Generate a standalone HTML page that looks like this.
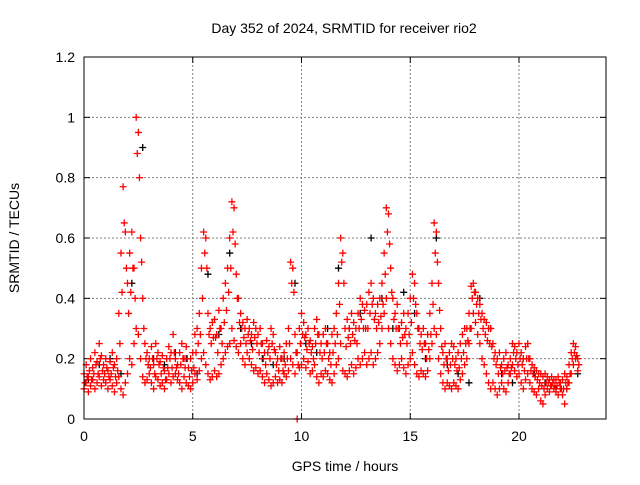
<!DOCTYPE html>
<html><head><meta charset="utf-8"><style>
body{margin:0;background:#fff}
svg text{font-family:"Liberation Sans",sans-serif;font-size:14px;fill:#000}
</style></head><body>
<svg id="chart" width="640" height="480" xmlns="http://www.w3.org/2000/svg">
<rect width="640" height="480" fill="#fff"/>
<g id="grid"></g>
<g id="ticks"></g>
<g id="marks"></g>
<rect x="84" y="57" width="522" height="362" fill="none" stroke="#000" stroke-width="1"/>
<text x="344" y="33" text-anchor="middle">Day 352 of 2024, SRMTID for receiver rio2</text>
<text x="345" y="471" text-anchor="middle">GPS time / hours</text>
<text x="19" y="238" text-anchor="middle" transform="rotate(-90 19 238)">SRMTID / TECUs</text>
</svg>
<script>
const xTicks=[0,5,10,15,20];
const yTicks=[0,0.2,0.4,0.6,0.8,1,1.2];
const yTickLabels=["0","0.2","0.4","0.6","0.8","1","1.2"];
const redStep=0.1;
const redUpper=[0.15,0.18,0.14,0.2,0.17,0.22,0.19,0.25,0.21,0.18,
0.2,0.16,0.19,0.22,0.18,0.2,0.35,0.55,0.77,0.62,
0.45,0.55,0.62,0.5,1.0,0.95,0.6,0.4,0.25,0.22,
0.2,0.24,0.18,0.25,0.22,0.19,0.21,0.16,0.2,0.24,
0.22,0.28,0.2,0.18,0.22,0.25,0.2,0.24,0.17,0.2,
0.22,0.28,0.3,0.35,0.5,0.62,0.6,0.35,0.3,0.32,
0.33,0.28,0.36,0.3,0.4,0.45,0.5,0.6,0.72,0.7,
0.48,0.4,0.35,0.32,0.3,0.33,0.3,0.28,0.32,0.3,
0.28,0.3,0.25,0.22,0.26,0.24,0.3,0.28,0.22,0.2,
0.24,0.2,0.22,0.25,0.3,0.52,0.5,0.28,0.22,0.3,
0.35,0.32,0.28,0.3,0.26,0.24,0.3,0.33,0.28,0.25,
0.28,0.3,0.25,0.22,0.28,0.3,0.35,0.45,0.6,0.55,
0.3,0.33,0.3,0.35,0.32,0.3,0.35,0.4,0.38,0.36,
0.38,0.42,0.45,0.4,0.35,0.38,0.4,0.45,0.55,0.7,
0.68,0.5,0.4,0.35,0.38,0.3,0.32,0.35,0.3,0.35,
0.4,0.48,0.45,0.35,0.3,0.28,0.3,0.25,0.28,0.35,
0.45,0.65,0.62,0.45,0.3,0.22,0.25,0.2,0.22,0.25,
0.24,0.2,0.22,0.25,0.28,0.3,0.3,0.35,0.44,0.45,
0.42,0.4,0.38,0.35,0.33,0.32,0.3,0.3,0.25,0.22,
0.2,0.22,0.18,0.2,0.22,0.18,0.2,0.25,0.24,0.22,
0.25,0.22,0.2,0.24,0.25,0.2,0.18,0.17,0.16,0.15,
0.15,0.14,0.15,0.14,0.13,0.14,0.13,0.13,0.14,0.12,
0.13,0.15,0.14,0.18,0.22,0.25,0.24,0.2];
const redMid=[0.12,0.14,0.16,0.13,0.15,0.18,0.15,0.2,0.16,0.15,
0.17,0.14,0.15,0.17,0.14,0.16,0.25,0.42,0.65,0.5,
0.35,0.42,0.5,0.4,0.88,0.8,0.52,0.3,0.2,0.18,
0.17,0.2,0.15,0.2,0.18,0.15,0.17,0.13,0.17,0.2,
0.17,0.22,0.17,0.15,0.18,0.2,0.17,0.2,0.14,0.16,
0.17,0.22,0.25,0.28,0.4,0.55,0.5,0.28,0.25,0.27,
0.27,0.22,0.3,0.25,0.32,0.36,0.42,0.5,0.62,0.58,
0.4,0.32,0.3,0.27,0.25,0.28,0.26,0.23,0.27,0.25,
0.22,0.25,0.2,0.18,0.22,0.2,0.25,0.23,0.18,0.16,
0.2,0.16,0.18,0.2,0.25,0.45,0.42,0.22,0.18,0.25,
0.28,0.27,0.23,0.25,0.22,0.2,0.25,0.28,0.22,0.2,
0.22,0.25,0.2,0.18,0.22,0.25,0.28,0.38,0.52,0.45,
0.24,0.27,0.25,0.28,0.26,0.25,0.3,0.33,0.3,0.3,
0.3,0.35,0.38,0.33,0.3,0.32,0.34,0.38,0.48,0.62,
0.58,0.42,0.33,0.3,0.3,0.25,0.27,0.28,0.25,0.28,
0.32,0.4,0.38,0.3,0.25,0.23,0.25,0.2,0.23,0.28,
0.38,0.55,0.52,0.36,0.24,0.18,0.2,0.16,0.18,0.2,
0.18,0.16,0.17,0.2,0.22,0.25,0.26,0.3,0.4,0.42,
0.38,0.35,0.33,0.3,0.28,0.26,0.25,0.24,0.2,0.18,
0.15,0.17,0.15,0.16,0.17,0.15,0.17,0.22,0.2,0.18,
0.2,0.18,0.16,0.2,0.2,0.16,0.15,0.14,0.13,0.12,
0.11,0.1,0.12,0.12,0.11,0.12,0.11,0.11,0.12,0.1,
0.1,0.12,0.12,0.15,0.2,0.22,0.21,0.18];
const redLower=[0.1,0.12,0.09,0.11,0.13,0.1,0.12,0.14,0.11,0.13,
0.12,0.1,0.13,0.11,0.09,0.12,0.14,0.1,0.08,0.12,
0.15,0.2,0.18,0.25,0.3,0.28,0.2,0.14,0.12,0.13,
0.15,0.12,0.1,0.14,0.13,0.11,0.12,0.1,0.13,0.15,
0.12,0.14,0.15,0.13,0.12,0.1,0.14,0.12,0.11,0.1,
0.12,0.15,0.13,0.16,0.2,0.22,0.18,0.15,0.13,0.14,
0.16,0.14,0.15,0.18,0.2,0.22,0.24,0.25,0.3,0.26,
0.24,0.22,0.25,0.2,0.18,0.22,0.2,0.18,0.16,0.17,
0.15,0.16,0.14,0.12,0.15,0.13,0.11,0.12,0.14,0.12,
0.13,0.12,0.15,0.14,0.16,0.2,0.18,0.15,0.0,0.17,
0.18,0.2,0.17,0.19,0.15,0.16,0.18,0.14,0.12,0.15,
0.14,0.16,0.15,0.13,0.12,0.15,0.18,0.2,0.25,0.16,
0.15,0.14,0.16,0.18,0.15,0.17,0.2,0.18,0.2,0.22,
0.18,0.2,0.22,0.18,0.2,0.22,0.25,0.3,0.35,0.4,
0.3,0.25,0.2,0.18,0.16,0.18,0.2,0.17,0.15,0.18,
0.2,0.22,0.18,0.15,0.14,0.16,0.15,0.14,0.16,0.2,
0.25,0.3,0.28,0.2,0.15,0.12,0.1,0.12,0.11,0.1,
0.12,0.11,0.1,0.13,0.15,0.18,0.2,0.25,0.3,0.35,
0.32,0.28,0.25,0.2,0.18,0.15,0.12,0.1,0.12,0.1,
0.08,0.1,0.12,0.1,0.09,0.12,0.15,0.18,0.16,0.14,
0.15,0.12,0.1,0.13,0.15,0.12,0.1,0.09,0.08,0.1,
0.06,0.05,0.08,0.1,0.09,0.11,0.1,0.09,0.08,0.1,
0.08,0.05,0.1,0.12,0.15,0.18,0.2,0.16];
const blackStep=0.5;
const blackValues=[0.13,0.18,0.2,0.15,0.45,0.9,0.2,0.18,0.22,0.2,0.15,0.48,0.28,0.55,0.3,0.25,0.2,0.18,0.2,0.45,0.25,0.22,0.3,0.5,0.3,0.35,0.6,0.4,0.3,0.42,0.35,0.2,0.6,0.18,0.15,0.12,0.4,0.3,0.15,0.12,0.2,0.15,0.12,0.1,0.1,0.15];

const NS="http://www.w3.org/2000/svg";
const X0=84,X1=606,Y0=419,Y1=57;
function xs(t){return X0+(t/24)*(X1-X0);}
function ys(v){return Y0-(v/1.2)*(Y0-Y1);}
function mk(tag,attrs,parent){const e=document.createElementNS(NS,tag);for(const k in attrs)e.setAttribute(k,attrs[k]);parent.appendChild(e);return e;}
const grid=document.getElementById('grid'),ticks=document.getElementById('ticks'),marks=document.getElementById('marks');
yTicks.forEach((v,i)=>{
  const y=ys(v);
  if(i>0&&i<yTicks.length-1){const g=mk('line',{x1:X0,x2:X1,y1:y,y2:y,stroke:'#808080','stroke-dasharray':'2,2'},grid);
  
  }
  mk('line',{x1:X0,x2:X0+6,y1:y,y2:y,stroke:'#000'},ticks);
  mk('line',{x1:X1,x2:X1-6,y1:y,y2:y,stroke:'#000'},ticks);
  const t=mk('text',{x:X0-9,y:y+5,'text-anchor':'end'},ticks);t.textContent=yTickLabels[i];
  
  
});
xTicks.forEach((v,i)=>{
  const x=xs(v);
  if(i>0){const g=mk('line',{x1:x,x2:x,y1:Y0,y2:Y1,stroke:'#808080','stroke-dasharray':'2,2'},grid);
  
  }
  mk('line',{x1:x,x2:x,y1:Y0,y2:Y0-6,stroke:'#000'},ticks);
  mk('line',{x1:x,x2:x,y1:Y1,y2:Y1+6,stroke:'#000'},ticks);
  const t=mk('text',{x:x,y:Y0+22,'text-anchor':'middle'},ticks);t.textContent=String(v);
  
  
});
function plus(t,v,color,name){
  const x=xs(t),y=ys(v);
  const p=mk('path',{d:`M${x-3.5},${y}h7M${x},${y-3.5}v7`,stroke:color,'stroke-width':1.3,fill:'none'},marks);
  
  
}
blackValues.forEach((v,i)=>plus(i*blackStep+0.2,v,'#000','black-point'));
redLower.forEach((v,i)=>plus(i*redStep,v,'#ff0000','red-point'));
redMid.forEach((v,i)=>plus(i*redStep+0.05,v,'#ff0000','red-point'));
redUpper.forEach((v,i)=>plus(i*redStep,v,'#ff0000','red-point'));
</script>
</body></html>
